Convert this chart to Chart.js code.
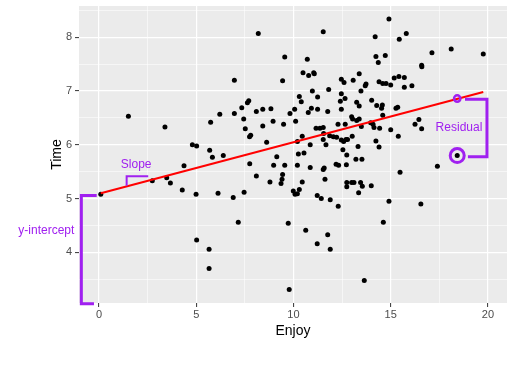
<!DOCTYPE html>
<html><head><meta charset="utf-8">
<script src="https://cdn.jsdelivr.net/npm/chart.js@4"></script>
<style>html,body{margin:0;padding:0;background:#fff}canvas{display:block}</style>
</head><body>
<canvas id="c" width="514" height="372" style="width:514px;height:372px"></canvas>
<script>
// ---- data ----
const enjoy = [1.51,3.39,4.80,5.02,8.19,11.53,9.55,10.71,6.96,9.44,
10.49,10.78,11.04,11.07,10.97,11.81,12.46,12.60,12.46,12.65,
12.41,10.30,10.40,11.24,7.70,7.63,7.34,8.09,8.42,8.84,
6.96,6.21,7.44,5.74,10.06,9.82,10.92,10.76,11.24,11.76,
12.46,8.95,10.11,9.49,8.42,7.52,11.16,11.36,11.53,12.29,
12.66,7.80,7.74,8.62,10.45,10.20,10.86,11.55,11.86,12.05,
12.22,11.53,11.67,12.46,12.58,12.70,12.54,12.74,5.69,5.83,
6.39,9.14,10.25,10.54,4.37,7.75,8.98,9.55,10.20,10.86,
11.58,11.53,12.19,12.32,12.72,8.09,9.44,9.41,9.36,8.79,
10.45,11.62,12.74,12.74,4.28,4.99,6.12,6.90,7.46,9.99,
10.08,10.20,10.30,11.22,11.43,11.89,12.30,7.16,9.73,10.63,
5.02,5.66,11.76,11.22,11.89,5.66,9.78,0.09,2.74,3.48,
3.67,14.91,14.20,15.44,15.80,14.24,14.36,14.72,17.12,18.11,
19.76,16.59,16.60,13.07,13.38,13.73,13.69,14.40,14.59,14.76,
15.00,15.18,15.42,15.70,15.70,16.09,13.47,13.25,13.38,14.02,
14.28,14.57,14.53,15.27,15.36,14.59,12.99,13.04,13.25,13.38,
13.97,14.09,13.49,14.14,14.43,15.00,16.25,16.45,16.59,15.39,
13.02,12.78,14.24,14.40,13.32,13.21,13.52,18.42,17.40,15.48,
12.99,13.11,13.45,13.54,14.00,13.35,14.91,16.55,14.62,13.64];
const time = [6.53,6.33,6.00,5.98,8.07,8.10,7.63,7.59,7.20,7.19,
7.34,7.29,7.34,7.32,7.00,7.03,7.22,7.16,6.95,6.86,
6.81,6.90,6.80,6.89,6.82,6.78,6.69,6.62,6.66,6.67,
6.58,6.57,6.48,6.42,6.66,6.58,6.68,6.60,6.66,6.62,
6.66,6.44,6.44,6.38,6.35,6.30,6.31,6.31,6.32,6.38,
6.38,6.18,6.15,6.05,6.16,6.06,6.00,6.21,6.17,6.15,
6.14,6.10,6.00,6.09,6.06,6.10,5.91,5.81,5.90,5.77,
5.80,5.78,5.83,5.85,5.61,5.65,5.62,5.62,5.62,5.58,
5.57,5.54,5.64,5.62,5.63,5.42,5.45,5.36,5.28,5.31,
5.31,5.36,5.30,5.22,5.16,5.08,5.10,5.02,5.12,5.14,
5.08,5.09,5.17,5.06,5.00,4.98,4.86,4.56,4.54,4.41,
4.23,4.06,4.33,4.16,4.06,3.70,3.31,5.08,5.33,5.39,
5.29,8.34,8.01,7.96,8.07,7.64,7.53,7.66,7.71,7.78,
7.69,7.48,7.45,7.20,7.32,7.13,7.10,7.17,7.14,7.14,
7.11,7.24,7.27,7.25,7.07,7.10,7.00,6.79,6.72,6.83,
6.73,6.74,6.68,6.68,6.70,6.55,6.52,6.48,6.45,6.48,
6.41,6.38,6.34,6.32,6.31,6.28,6.38,6.47,6.30,6.16,
6.16,6.10,6.07,5.96,5.97,5.73,5.73,5.80,5.60,5.49,
5.30,5.30,5.30,5.23,5.24,5.11,4.95,4.90,4.56,3.48];
const fitEnjoy = [0.09, 19.76];
const fitTime = [5.10, 6.98];
const exampleEnjoy = [18.42];
const exampleTime = [5.80];
const exampleFitted = [6.86];
const xMajorTicks = [0, 5, 10, 15, 20];
const yMajorTicks = [4, 5, 6, 7, 8];
const xMinorTicks = [2.5, 7.5, 12.5, 17.5];
const yMinorTicks = [3.5, 4.5, 5.5, 6.5, 7.5, 8.5];
const annotationLabels = ['Slope', 'Residual', 'y-intercept'];

// ---- chart ----
const PURPLE = '#A020F0';
const FONT = "'Liberation Sans', Arial, sans-serif";

const bgPlugin = {
  id: 'panelBg',
  beforeDraw(chart) {
    const {ctx, chartArea: a} = chart;
    ctx.save();
    ctx.fillStyle = '#EBEBEB';
    ctx.fillRect(a.left, a.top, a.right - a.left, a.bottom - a.top);
    ctx.restore();
  }
};

const annoPlugin = {
  id: 'annos',
  afterDatasetsDraw(chart) {
    const {ctx} = chart;
    const X = v => chart.scales.x.getPixelForValue(v);
    const Y = v => chart.scales.y.getPixelForValue(v);
    const path = (pts, w) => {
      ctx.beginPath();
      pts.forEach((p, i) => { const px = X(p[0]), py = Y(p[1]); i ? ctx.lineTo(px, py) : ctx.moveTo(px, py); });
      ctx.lineWidth = w; ctx.strokeStyle = PURPLE; ctx.lineJoin = 'miter'; ctx.lineCap = 'butt';
      ctx.stroke();
    };
    ctx.save();
    // y-intercept bracket
    path([[-0.12, 5.06], [-0.91, 5.06], [-0.91, 3.047], [-0.26, 3.047]], 3);
    // slope bracket
    path([[1.42, 5.24], [1.42, 5.417], [2.53, 5.417]], 2);
    // residual bracket
    path([[18.82, 6.845], [19.95, 6.845], [19.95, 5.777], [18.97, 5.777]], 3);
    ctx.fillStyle = PURPLE;
    ctx.font = '12px ' + FONT;
    ctx.textAlign = 'center';
    ctx.textBaseline = 'middle';
    ctx.fillText(annotationLabels[0], X(1.91), Y(5.622));
    ctx.fillText(annotationLabels[1], X(18.51), Y(6.31));
    ctx.fillText(annotationLabels[2], X(-2.71), Y(4.40));
    ctx.restore();
  }
};

const isMajorX = v => xMajorTicks.includes(v);
const isMajorY = v => yMajorTicks.includes(v);

new Chart(document.getElementById('c'), {
  type: 'scatter',
  data: {
    datasets: [
      {
        order: 1,
        data: exampleEnjoy.map((x, i) => ({x, y: exampleTime[i]})),
        pointRadius: 7, borderWidth: 3, borderColor: PURPLE,
        backgroundColor: 'rgba(0,0,0,0)', pointHoverRadius: 7
      },
      {
        order: 1,
        data: exampleEnjoy.map((x, i) => ({x, y: exampleFitted[i]})),
        pointRadius: 3.2, borderWidth: 2.5, borderColor: PURPLE,
        backgroundColor: 'rgba(0,0,0,0)', pointHoverRadius: 3.2
      },
      {
        order: 2,
        type: 'line',
        data: fitEnjoy.map((x, i) => ({x, y: fitTime[i]})),
        borderColor: '#FF0000', borderWidth: 2, pointRadius: 0, fill: false, tension: 0
      },
      {
        order: 3,
        data: enjoy.map((x, i) => ({x, y: time[i]})),
        pointRadius: 2.5, pointHoverRadius: 2.5, borderWidth: 0,
        backgroundColor: '#000000'
      }
    ]
  },
  options: {
    responsive: false,
    animation: false,
    devicePixelRatio: 1,
    layout: {autoPadding: false, padding: {left: 0, right: 7, top: 6, bottom: 0}},
    plugins: {legend: {display: false}, tooltip: {enabled: false}},
    scales: {
      x: {
        type: 'linear', min: -1.03, max: 20.98,
        afterBuildTicks: s => { s.ticks = xMajorTicks.concat(xMinorTicks).sort((a,b)=>a-b).map(v => ({value: v})); },
        afterFit: s => { s.height = 69; s.paddingLeft = 0; s.paddingRight = 0; s.paddingTop = 0; s.paddingBottom = 0; },
        border: {display: false},
        grid: {
          color: '#FFFFFF',
          lineWidth: c => isMajorX(c.tick.value) ? 1.2 : 0.55,
          tickColor: c => isMajorX(c.tick.value) ? '#333333' : 'rgba(0,0,0,0)',
          tickLength: 4, tickWidth: 1
        },
        ticks: {
          autoSkip: false, maxRotation: 0, padding: 1,
          color: '#4D4D4D', font: {family: FONT, size: 11},
          callback: v => isMajorX(v) ? String(v) : ''
        },
        title: {display: true, text: 'Enjoy', color: '#000000', font: {family: FONT, size: 14}, padding: {top: 0, bottom: 32}}
      },
      y: {
        type: 'linear', min: 3.06, max: 8.58,
        afterBuildTicks: s => { s.ticks = yMajorTicks.concat(yMinorTicks).sort((a,b)=>a-b).map(v => ({value: v})); },
        afterFit: s => { s.width = 79; s.paddingLeft = 0; s.paddingRight = 0; s.paddingTop = 0; s.paddingBottom = 0; },
        border: {display: false},
        grid: {
          color: '#FFFFFF',
          lineWidth: c => isMajorY(c.tick.value) ? 1.2 : 0.55,
          tickColor: c => isMajorY(c.tick.value) ? '#333333' : 'rgba(0,0,0,0)',
          tickLength: 4, tickWidth: 1
        },
        ticks: {
          autoSkip: false, padding: 3,
          color: '#4D4D4D', font: {family: FONT, size: 11},
          callback: v => isMajorY(v) ? String(v) : ''
        },
        title: {display: true, text: 'Time', color: '#000000', font: {family: FONT, size: 14}, padding: {top: 48.5, bottom: 0}}
      }
    }
  },
  plugins: [bgPlugin, annoPlugin]
});
</script>
</body></html>
